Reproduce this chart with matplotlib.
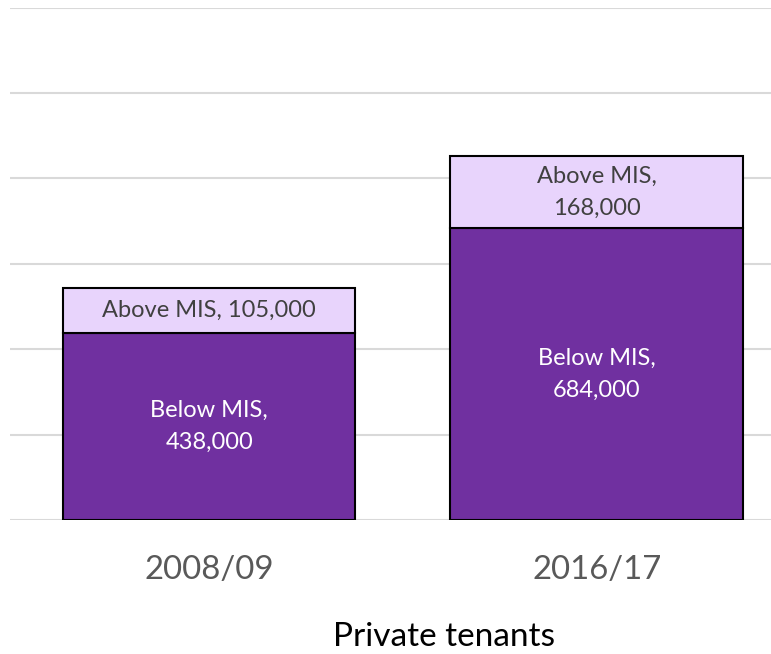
import matplotlib.pyplot as plt

# Данные
categories = ["2008/09", "2016/17"]
below_mis = [438000, 684000]
above_mis = [105000, 168000]
below_labels = ["Below MIS,\n438,000", "Below MIS,\n684,000"]
above_labels = ["Above MIS, 105,000", "Above MIS,\n168,000"]

plt.rcParams['font.family'] = ['Lato', 'DejaVu Sans']

fig = plt.figure(figsize=(7.71, 6.54), dpi=100)
ax = fig.add_axes([10 / 771, (654 - 520) / 654, 761 / 771, (520 - 7.5) / 654])

x = list(range(len(categories)))
ax.bar(x, below_mis, width=0.755, color="#7030A0", edgecolor="black", linewidth=1.5, zorder=3)
ax.bar(x, above_mis, bottom=below_mis, width=0.755, color="#E8D4FC", edgecolor="black", linewidth=1.5, zorder=3)

for i in x:
    ax.text(i, below_mis[i] / 2, below_labels[i], ha="center", va="center",
            color="white", fontsize=17, linespacing=1.65, zorder=4)
    ax.text(i, below_mis[i] + above_mis[i] / 2, above_labels[i], ha="center", va="center",
            color="#404040", fontsize=17, linespacing=1.65, zorder=4)

ax.set_xlim(-0.514, 1.45)
ax.set_ylim(0, 1200000)
ax.set_yticks(range(0, 1200001, 200000))
ax.yaxis.grid(True, color="#D9D9D9", linewidth=1.5, zorder=0)
ax.set_yticklabels([])
ax.tick_params(axis="y", length=0)
ax.set_xticks(x)
ax.set_xticklabels(categories, fontsize=23.7, color="#595959")
ax.tick_params(axis="x", length=0, pad=25)
for s in ax.spines.values():
    s.set_visible(False)

fig.text(444 / 771, 1 - 637 / 654, "Private tenants", ha="center", va="center", fontsize=24, color="black")

fig.savefig("out.png", dpi=100)
